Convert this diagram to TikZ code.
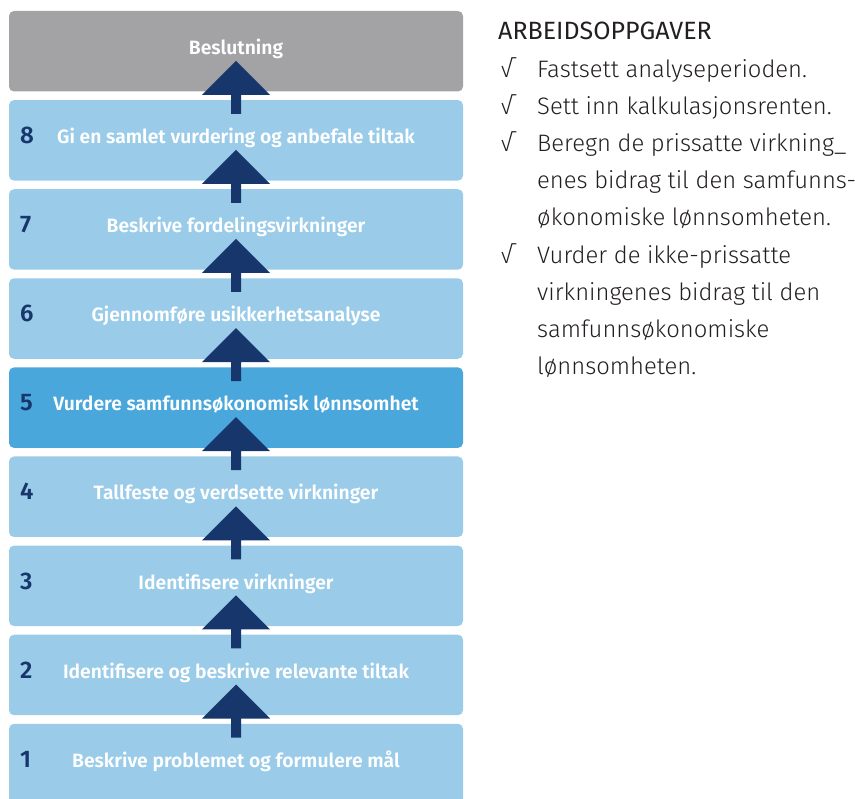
\documentclass[tikz,border=0pt]{standalone}
\usepackage{fontspec}
\setmainfont{Fira Sans}
\newfontfamily\boxfont{Fira Sans SemiBold}
\newfontfamily\lightfont{Fira Sans Light}
\usetikzlibrary{calc}
\definecolor{lightblue}{HTML}{9ACCE9}
\definecolor{midblue}{HTML}{4AA7DB}
\definecolor{greybox}{HTML}{A3A3A5}
\definecolor{navy}{HTML}{17366C}
\definecolor{ink}{HTML}{231F20}
\newcommand{\myarrow}[3]{%
  \coordinate (#3) at ($(#1.south)!0.5!(#2.north)$);
  \fill[navy] ($(#3)+(0,-35)$) -- ($(#3)+(34,-1)$) -- ($(#3)+(5,-1)$) -- ($(#3)+(5,18)$)
    -- ($(#3)+(-5,18)$) -- ($(#3)+(-5,-1)$) -- ($(#3)+(-34,-1)$) -- cycle;}
\begin{document}
\begin{tikzpicture}[x=1pt,y=-1pt,
  stepbox/.style={fill=lightblue, rounded corners=5pt, minimum width=454pt, minimum height=80.5pt, inner sep=0pt, outer sep=0pt},
  boxtxt/.style={text=white, font=\boxfont\fontsize{19.3}{22}\selectfont, anchor=base, inner sep=0pt},
  numtxt/.style={text=navy, font=\boxfont\fontsize{24}{28}\selectfont, anchor=base west, inner sep=0pt},
  rhead/.style={text=ink, font=\fontsize{25}{28}\selectfont, anchor=base west, inner sep=0pt},
  ritem/.style={text=ink, font=\lightfont\fontsize{23.8}{28}\selectfont, anchor=base west, inner sep=0pt}]
\useasboundingbox (0,0) rectangle (855,799);
\clip (0,0) rectangle (855,799);
% boxes
\node[stepbox, fill=greybox] (b9) at (236,51.25) {};
\node[stepbox] (b8) at (236,140.35) {};
\node[stepbox] (b7) at (236,229.45) {};
\node[stepbox] (b6) at (236,318.55) {};
\node[stepbox, fill=midblue] (b5) at (236,407.65) {};
\node[stepbox] (b4) at (236,496.75) {};
\node[stepbox] (b3) at (236,585.85) {};
\node[stepbox] (b2) at (236,674.95) {};
\node[stepbox] (b1) at (236,764.05) {};
% texts
\node[boxtxt] (t9) at ($(b9.north)+(0,43.5)$) {Beslutning};
\node[boxtxt] (t8) at ($(b8.north)+(0,43.5)$) {Gi en samlet vurdering og anbefale tiltak};
\node[boxtxt] (t7) at ($(b7.north)+(0,43.5)$) {Beskrive fordelingsvirkninger};
\node[boxtxt] (t6) at ($(b6.north)+(0,43.5)$) {Gjennomføre usikkerhetsanalyse};
\node[boxtxt] (t5) at ($(b5.north)+(0,43.5)$) {Vurdere samfunnsøkonomisk lønnsomhet};
\node[boxtxt] (t4) at ($(b4.north)+(0,43.5)$) {Tallfeste og verdsette virkninger};
\node[boxtxt] (t3) at ($(b3.north)+(0,43.5)$) {Identifisere virkninger};
\node[boxtxt] (t2) at ($(b2.north)+(0,43.5)$) {Identifisere og beskrive relevante tiltak};
\node[boxtxt] (t1) at ($(b1.north)+(0,43.5)$) {Beskrive problemet og formulere mål};
% numbers
\foreach \i in {1,...,8}{
  \node[numtxt] (n\i) at ($(b\i.north west)+(11,43.5)$) {\i};
}
% arrows
\myarrow{b9}{b8}{m8}
\myarrow{b8}{b7}{m7}
\myarrow{b7}{b6}{m6}
\myarrow{b6}{b5}{m5}
\myarrow{b5}{b4}{m4}
\myarrow{b4}{b3}{m3}
\myarrow{b3}{b2}{m2}
\myarrow{b2}{b1}{m1}
% right text
\node[rhead] (h) at (498,40) {ARBEIDSOPPGAVER};
\node[ritem] (c1) at (500,77.2) {√};
\node[ritem] (r1) at (537,77.2) {Fastsett analyseperioden.};
\node[ritem] (c2) at (500,114.4) {√};
\node[ritem] (r2) at (537,114.4) {Sett inn kalkulasjonsrenten.};
\node[ritem] (c3) at (500,151.6) {√};
\node[ritem] (r3) at (537,151.6) {Beregn de prissatte virkning\_};
\node[ritem] (r3b) at (537,188.8) {enes bidrag til den samfunns-};
\node[ritem] (r3c) at (537,226.0) {økonomiske lønnsomheten.};
\node[ritem] (c4) at (500,263.2) {√};
\node[ritem] (r4) at (537,263.2) {Vurder de ikke-prissatte};
\node[ritem] (r4b) at (537,300.4) {virkningenes bidrag til den};
\node[ritem] (r4c) at (537,337.6) {samfunnsøkonomiske};
\node[ritem] (r4d) at (537,374.8) {lønnsomheten.};
\end{tikzpicture}
\end{document}
